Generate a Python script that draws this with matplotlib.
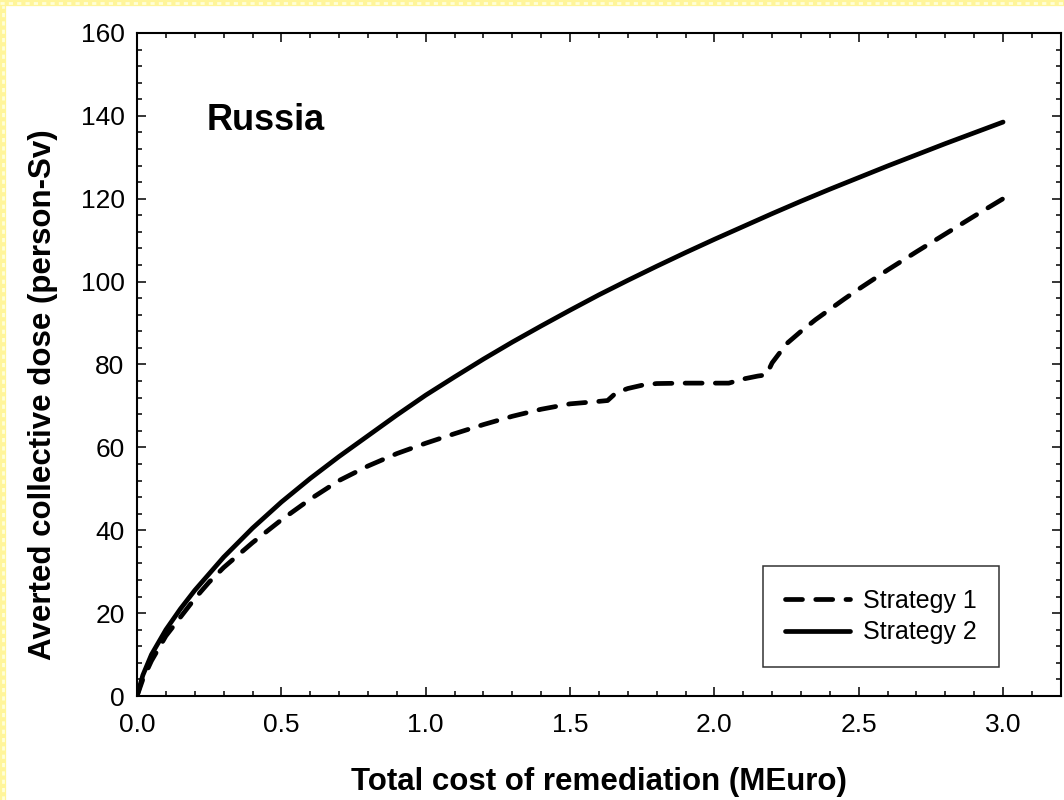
import matplotlib
matplotlib.use("Agg")
import matplotlib.pyplot as plt
from matplotlib.ticker import MultipleLocator
from matplotlib.lines import Line2D

plt.rcParams["font.family"] = ["Liberation Sans", "DejaVu Sans"]

# cumulative cost (MEuro) vs averted collective dose (person-Sv)
cost_s1 = [0.0, 0.02, 0.05, 0.1, 0.15, 0.2, 0.25, 0.3, 0.4, 0.5, 0.6, 0.7, 0.8, 0.9,
           1.0, 1.1, 1.2, 1.3, 1.4, 1.5, 1.6, 1.63, 1.66, 1.7, 1.75, 1.8, 1.9, 2.0,
           2.05, 2.1, 2.15, 2.18, 2.2, 2.25, 2.3, 2.35, 2.4, 2.45, 2.5, 2.6, 2.7,
           2.8, 2.9, 3.0]
dose_s1 = [0.0, 4.0, 8.5, 14.5, 19.0, 23.5, 27.5, 31.0, 37.0, 42.5, 47.5, 52.0, 55.5, 58.5,
           61.0, 63.3, 65.5, 67.5, 69.2, 70.5, 71.1, 71.3, 73.2, 74.2, 75.0, 75.4, 75.5, 75.5,
           75.5, 76.5, 77.2, 77.5, 80.4, 85.0, 88.0, 90.8, 93.3, 95.8, 98.2, 102.8, 107.2,
           111.5, 115.8, 120.0]

cost_s2 = [0.0, 0.02, 0.05, 0.1, 0.15, 0.2, 0.3, 0.4, 0.5, 0.6, 0.7, 0.8, 0.9, 1.0,
           1.1, 1.2, 1.3, 1.4, 1.5, 1.6, 1.7, 1.8, 1.9, 2.0, 2.1, 2.2, 2.3, 2.4,
           2.5, 2.6, 2.7, 2.8, 2.9, 3.0]
dose_s2 = [0.0, 5.0, 10.0, 16.0, 21.0, 25.5, 33.5, 40.5, 46.8, 52.5, 57.8, 62.8, 67.8, 72.6,
           77.0, 81.3, 85.4, 89.3, 93.1, 96.8, 100.3, 103.7, 107.0, 110.2, 113.3, 116.4, 119.4, 122.3,
           125.1, 127.9, 130.6, 133.3, 135.9, 138.5]

fig = plt.figure(figsize=(10.64, 8.0), dpi=100)
ax = fig.add_axes([0.1288, 0.13, 0.8682, 0.8288])

ax.plot(cost_s1, dose_s1, color="black", lw=3.4, linestyle=(0, (3.6, 2.8)),
        dash_capstyle="round", solid_capstyle="round", solid_joinstyle="round",
        label="Strategy 1")
ax.plot(cost_s2, dose_s2, color="black", lw=3.4, solid_capstyle="round",
        solid_joinstyle="round", label="Strategy 2")

ax.set_xlim(0, 3.2)
ax.set_ylim(0, 160)
ax.set_xticks([0.0, 0.5, 1.0, 1.5, 2.0, 2.5, 3.0])
ax.set_xticklabels(["0.0", "0.5", "1.0", "1.5", "2.0", "2.5", "3.0"])
ax.xaxis.set_minor_locator(MultipleLocator(0.1))
ax.yaxis.set_major_locator(MultipleLocator(20))
ax.yaxis.set_minor_locator(MultipleLocator(4))
ax.tick_params(which="both", direction="in", top=True, right=True, width=1.1)
ax.tick_params(which="major", length=6.5, labelsize=19)
ax.tick_params(which="minor", length=3.8)
ax.tick_params(axis="x", which="major", pad=12)
ax.tick_params(axis="y", which="major", pad=9)
for s in ax.spines.values():
    s.set_linewidth(1.5)

ax.set_xlabel("Total cost of remediation (MEuro)", fontsize=22.5, fontweight="bold")
ax.set_ylabel("Averted collective dose (person-Sv)", fontsize=22.5, fontweight="bold")
ax.xaxis.set_label_coords(0.5, -0.107)
ax.yaxis.set_label_coords(-0.0855, 0.455)

ax.text(0.24, 136.6, "Russia", fontsize=26, fontweight="bold", ha="left", va="baseline")

leg = ax.legend(loc="lower right", bbox_to_anchor=(0.933, 0.044), borderaxespad=0,
                fontsize=18, handlelength=2.6, handletextpad=0.5,
                labelspacing=0.3, borderpad=0.9, fancybox=False)
leg.get_frame().set_edgecolor("black")
leg.get_frame().set_linewidth(1.1)

# dotted yellow frame along the left and top edges
for xs, ys in (([0.003, 0.003], [0, 1]), ([0, 1], [0.9965, 0.9965])):
    fig.add_artist(Line2D(xs, ys, transform=fig.transFigure, color="#fff59a", lw=4.5))
    fig.add_artist(Line2D(xs, ys, transform=fig.transFigure, color="#ffffd8", lw=2.0,
                          linestyle=(0, (1.5, 1.5))))

fig.savefig("out.png", dpi=100)
